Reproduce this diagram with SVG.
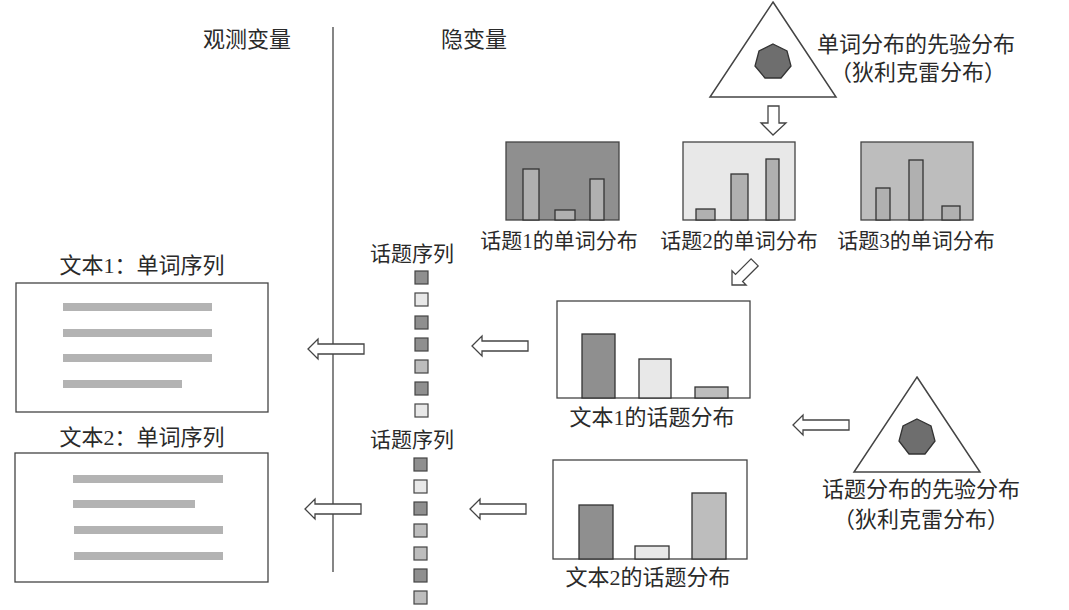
<svg xmlns="http://www.w3.org/2000/svg" width="1069" height="610" viewBox="0 0 1069 610">
<style>
text{font-family:"Liberation Serif","Noto Sans CJK SC",sans-serif;fill:#2a2a2a;text-anchor:middle}
.t22{font-size:22px}
.t21{font-size:21px}
.box{fill:#fff;stroke:#444;stroke-width:1.3}
.bar{stroke:#333;stroke-width:1.3}
.d{fill:#8f8f8f}
.l{fill:#e8e8e8}
.m{fill:#bdbdbd}
.b{fill:#b0b0b0}
.arr{fill:#fff;stroke:#444;stroke-width:1.3;stroke-linejoin:miter}
.line{stroke:#b3b3b3;stroke-width:8}
.sq{stroke:#444;stroke-width:1.2}
.tri{fill:#fff;stroke:#444;stroke-width:1.5}
.hep{fill:#6e6e6e;stroke:#333;stroke-width:1.3}
</style>
<defs>
<path id="harr" d="M0,0 L10,-10 L10,-5 L56,-5 L56,5 L10,5 L10,10 Z"/>
</defs>
<rect width="1069" height="610" fill="#fff"/>

<g id="header">
<text class="t22" x="247" y="47">观测变量</text>
<text class="t22" x="474" y="47">隐变量</text>
<line x1="333" y1="27" x2="333" y2="572" stroke="#444" stroke-width="1.3"/>
</g>

<g id="word-prior">
<polygon class="tri" points="773,2 836,97 710,97"/>
<polygon class="hep" points="773,44 787,51 791,66 781,78 765,78 755,66 759,51"/>
<text class="t22" x="916" y="52">单词分布的先验分布</text>
<text class="t22" x="918" y="80">（狄利克雷分布）</text>
</g>

<g id="topic1-words">
<rect x="506" y="142" width="113" height="78" fill="#8f8f8f" stroke="#444" stroke-width="1.3"/>
<rect class="bar b" x="523" y="169" width="16" height="51"/>
<rect class="bar b" x="555" y="210" width="20" height="10"/>
<rect class="bar b" x="590" y="179" width="14" height="41"/>
<text class="t21" x="559" y="248">话题1的单词分布</text>
</g>

<g id="topic2-words">
<rect x="683" y="142" width="112" height="78" fill="#e8e8e8" stroke="#444" stroke-width="1.3"/>
<rect class="bar b" x="696" y="209" width="19" height="11"/>
<rect class="bar b" x="731" y="174" width="17" height="46"/>
<rect class="bar b" x="766" y="159" width="13" height="61"/>
<text class="t21" x="739" y="248">话题2的单词分布</text>
</g>

<g id="topic3-words">
<rect x="861" y="142" width="112" height="78" fill="#bdbdbd" stroke="#444" stroke-width="1.3"/>
<rect class="bar b" x="876" y="188" width="14" height="32"/>
<rect class="bar b" x="909" y="160" width="14" height="60"/>
<rect class="bar b" x="942" y="206" width="18" height="14"/>
<text class="t21" x="916" y="248">话题3的单词分布</text>
</g>

<g id="doc1-text">
<text class="t22" x="142" y="273">文本1：单词序列</text>
<rect class="box" x="16" y="283" width="252" height="129"/>
<line class="line" x1="63" y1="307" x2="212" y2="307"/>
<line class="line" x1="63" y1="333" x2="212" y2="333"/>
<line class="line" x1="63" y1="358" x2="212" y2="358"/>
<line class="line" x1="63" y1="384" x2="182" y2="384"/>
</g>

<g id="doc2-text">
<text class="t22" x="142" y="445">文本2：单词序列</text>
<rect class="box" x="15" y="453" width="253" height="129"/>
<line class="line" x1="73" y1="479" x2="223" y2="479"/>
<line class="line" x1="73" y1="504" x2="195" y2="504"/>
<line class="line" x1="74" y1="530" x2="223" y2="530"/>
<line class="line" x1="74" y1="556" x2="223" y2="556"/>
</g>

<g id="topic-seq1">
<text class="t21" x="412" y="261">话题序列</text>
<rect class="sq d" x="415" y="271" width="13" height="13"/>
<rect class="sq l" x="415" y="293" width="13" height="13"/>
<rect class="sq d" x="415" y="316" width="13" height="13"/>
<rect class="sq d" x="415" y="338" width="13" height="13"/>
<rect class="sq m" x="415" y="360" width="13" height="13"/>
<rect class="sq d" x="415" y="382" width="13" height="13"/>
<rect class="sq l" x="415" y="404" width="13" height="13"/>
</g>

<g id="topic-seq2">
<text class="t21" x="412" y="447">话题序列</text>
<rect class="sq d" x="414" y="458" width="13" height="13"/>
<rect class="sq l" x="414" y="480" width="13" height="13"/>
<rect class="sq d" x="414" y="502" width="13" height="13"/>
<rect class="sq m" x="414" y="524" width="13" height="13"/>
<rect class="sq m" x="414" y="547" width="13" height="13"/>
<rect class="sq d" x="414" y="569" width="13" height="13"/>
<rect class="sq m" x="414" y="591" width="13" height="13"/>
</g>

<g id="doc1-topics">
<rect class="box" x="557" y="301" width="193" height="97"/>
<rect class="bar d" x="582" y="334" width="33" height="64"/>
<rect class="bar l" x="639" y="359" width="32" height="39"/>
<rect class="bar m" x="695" y="387" width="33" height="11"/>
<text class="t22" x="652" y="425">文本1的话题分布</text>
</g>

<g id="doc2-topics">
<rect class="box" x="553" y="460" width="194" height="99"/>
<rect class="bar d" x="579" y="505" width="34" height="54"/>
<rect class="bar l" x="635" y="546" width="34" height="13"/>
<rect class="bar m" x="692" y="493" width="34" height="66"/>
<text class="t22" x="648" y="585">文本2的话题分布</text>
</g>

<g id="topic-prior">
<polygon class="tri" points="917,377 980,472 854,472"/>
<polygon class="hep" points="917,419 931,426 935,441 925,454 909,454 899,441 903,426"/>
<text class="t22" x="921" y="497">话题分布的先验分布</text>
<text class="t22" x="921" y="527">（狄利克雷分布）</text>
</g>

<g id="connectors">
<path class="arr" d="M773,135 L761,123 L768,123 L768,106 L779,106 L779,123 L786,123 Z"/>
<path class="arr" d="M0,0 L10,-10 L10,-5 L32,-5 L32,5 L10,5 L10,10 Z" transform="translate(732,285) rotate(-45)"/>
<use href="#harr" class="arr" transform="translate(472,346)"/>
<use href="#harr" class="arr" transform="translate(308,349)"/>
<use href="#harr" class="arr" transform="translate(470,509)"/>
<use href="#harr" class="arr" transform="translate(305,509)"/>
<use href="#harr" class="arr" transform="translate(793,425)"/>
</g>
</svg>
